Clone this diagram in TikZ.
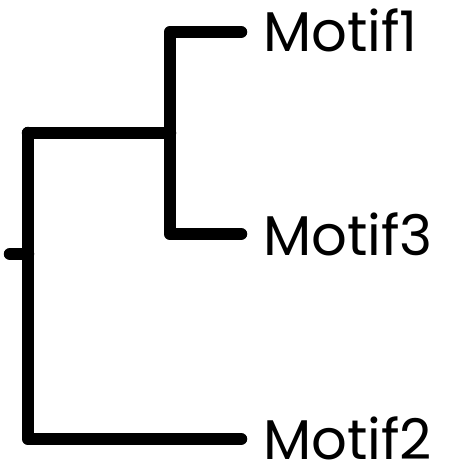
\documentclass[tikz,border=0pt]{standalone}
\usepackage{fontspec}
\setmainfont{Poppins}
\begin{document}
\begin{tikzpicture}[x=1pt,y=-1pt,
  branch/.style={line width=12.5pt,line cap=round,line join=round,black},
  leaf/.style={anchor=base west,inner sep=0pt,text depth=0pt,font=\fontsize{56}{56}\selectfont}]
\useasboundingbox (0,0) rectangle (449,466);
\coordinate (r0) at (10,254);
\coordinate (r) at (28,254);
\coordinate (a) at (28,133);
\coordinate (b) at (28,439);
\coordinate (c) at (170,133);
\coordinate (c1) at (170,32);
\coordinate (c3) at (170,234);
\coordinate (e1) at (241,32);
\coordinate (e3) at (241,234);
\coordinate (e2) at (241,439);
\node[leaf] (m1) at (263,51) {Motif1};
\node[leaf] (m3) at (263,255) {Motif3};
\node[leaf] (m2) at (263,459) {Motif2};
\draw[branch] (r0) -- (r);
\draw[branch] (a) -- (b) -- (e2);
\draw[branch] (a) -- (c);
\draw[branch] (e1) -- (c1) -- (c3) -- (e3);
\end{tikzpicture}
\end{document}
